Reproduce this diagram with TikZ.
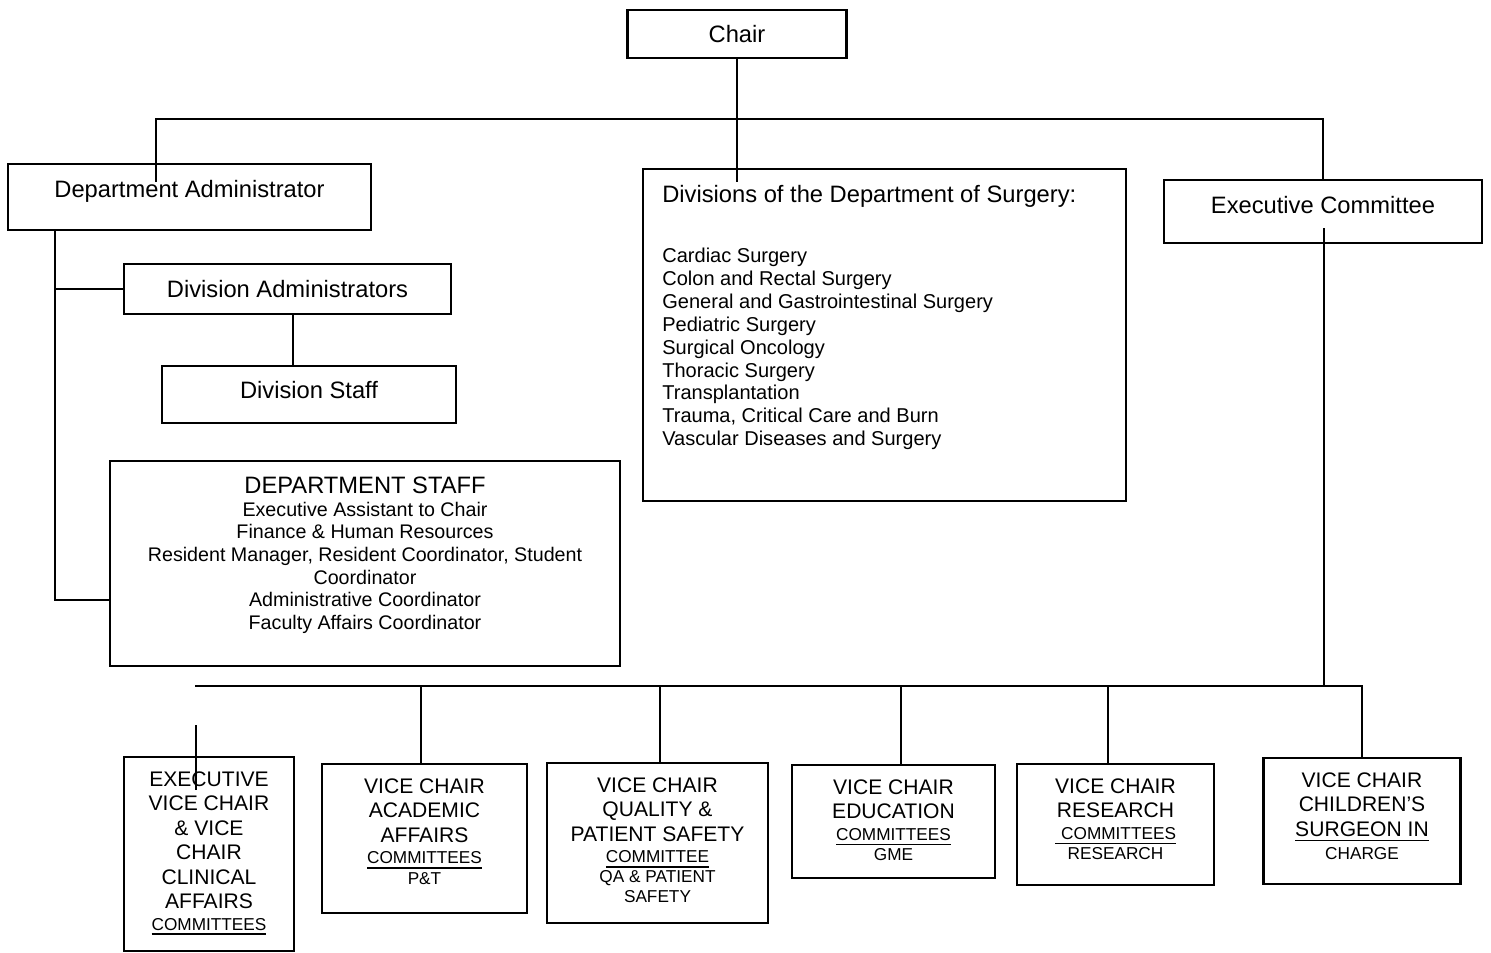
\documentclass[tikz,border=0pt]{standalone}
\usepackage{fontspec}
\setmainfont{Liberation Sans}
\usetikzlibrary{positioning}
\newcommand{\vcsmall}{\fontsize{9.8}{11.3}\selectfont}
\newcommand{\ulrule}[1]{\leavevmode\setbox0\hbox{#1}\rlap{\rule[-2.8pt]{\wd0}{1pt}}\box0}

\begin{document}
\begin{tikzpicture}[x=0.02cm, y=-0.02cm,
  box/.style={draw, line width=1.2pt, inner sep=0pt, align=center},
  head/.style={font=\fontsize{13.5}{16}\selectfont},
  vc/.style={inner sep=0pt, align=center, font=\fontsize{12}{13.9}\selectfont},
  link/.style={line width=1.2pt}
]
  \useasboundingbox (0,0) rectangle (1491,953);

  % Chair and the first row
  \node[box, head, minimum width=4.38cm, minimum height=0.96cm] (chair) at (737,34) {Chair};
  \node[box, head, minimum width=7.26cm, minimum height=1.32cm, text height=9.9pt, text depth=9.2pt] (deptadm) at (189.5,197) {Department Administrator};
  \node[box, head, minimum width=6.36cm, minimum height=1.26cm, text height=9.9pt, text depth=7.6pt] (execc) at (1323,211.5) {Executive Committee};

  % Divisions
  \node[box, minimum width=9.66cm, minimum height=6.64cm] (divs) at (884.5,335) {};
  \node[inner sep=0pt, align=left, font=\fontsize{11.4}{13}\selectfont, below right=0.33cm and 0.4cm of divs.north west] (divlist) {{\fontsize{13.5}{16}\selectfont Divisions of the Department of Surgery:}\\[21.6pt]
    Cardiac Surgery\\
    Colon and Rectal Surgery\\
    General and Gastrointestinal Surgery\\
    Pediatric Surgery\\
    Surgical Oncology\\
    Thoracic Surgery\\
    Transplantation\\
    Trauma, Critical Care and Burn\\
    Vascular Diseases and Surgery};

  % Administration side
  \node[box, head, minimum width=6.54cm, minimum height=1.0cm] (divadm) at (287.5,289) {Division Administrators};
  \node[box, head, minimum width=5.88cm, minimum height=1.14cm, text height=9.9pt, text depth=5.3pt] (divstaff) at (309,394.5) {Division Staff};
  \node[box, minimum width=10.2cm, minimum height=4.1cm] (deptstaff) at (365,563.5) {};
  \node[inner sep=0pt, align=center, font=\fontsize{11.2}{12.9}\selectfont, below=0.33cm of deptstaff.north] (stafflist) {{\fontsize{13.5}{16}\selectfont DEPARTMENT STAFF}\\
    Executive Assistant to Chair\\
    Finance \& Human Resources\\
    Resident Manager, Resident Coordinator, Student\\
    Coordinator\\
    Administrative Coordinator\\
    Faculty Affairs Coordinator};

  % Vice chairs
  \node[box, minimum width=3.4cm, minimum height=3.88cm] (vcexec) at (209,854) {};
  \node[box, minimum width=4.1cm, minimum height=2.98cm] (vcacad) at (424.5,838.5) {};
  \node[box, minimum width=4.42cm, minimum height=3.2cm] (vcqual) at (657.5,843) {};
  \node[box, minimum width=4.06cm, minimum height=2.26cm] (vcedu) at (893.5,821.5) {};
  \node[box, minimum width=3.94cm, minimum height=2.42cm] (vcres) at (1115.5,824.5) {};
  \node[box, minimum width=3.94cm, minimum height=2.52cm] (vcchild) at (1362,821) {};

  \node[vc, below=0.31cm of vcexec.north] (vcexectxt) {EXECUTIVE\\VICE CHAIR\\\& VICE\\CHAIR\\CLINICAL\\AFFAIRS\\[-1.7pt]\vcsmall\ulrule{COMMITTEES}};
  \node[vc, below=0.31cm of vcacad.north] (vcacadtxt) {VICE CHAIR\\ACADEMIC\\AFFAIRS\\[-1.7pt]\vcsmall\ulrule{COMMITTEES}\\[-2pt]\vcsmall P\&T};
  \node[vc, below=0.31cm of vcqual.north] (vcqualtxt) {VICE CHAIR\\QUALITY \&\\PATIENT SAFETY\\[-1.7pt]\vcsmall\ulrule{COMMITTEE}\\[-2.6pt]\vcsmall QA \& PATIENT\\[-2.6pt]\vcsmall SAFETY};
  \node[vc, below=0.31cm of vcedu.north] (vcedutxt) {VICE CHAIR\\EDUCATION\\[-1.7pt]\vcsmall\ulrule{COMMITTEES}\\[-2.4pt]\vcsmall GME};
  \node[vc, below=0.31cm of vcres.north] (vcrestxt) {VICE CHAIR\\RESEARCH\\[-1.7pt]\vcsmall\ulrule{\hspace{3.5pt}COMMITTEES}\\[-2.4pt]\vcsmall RESEARCH};
  \node[vc, below=0.31cm of vcchild.north] (vcchildtxt) {VICE CHAIR\\CHILDREN’S\\\ulrule{SURGEON IN}\\[-0.5pt]\vcsmall CHARGE};

  % Lines from the chair
  \coordinate (barT) at (156,119);
  \coordinate (admtip) at (156,182);
  \draw[link] (chair.south) -- (chair.south |- admtip);
  \draw[link] (admtip) -- (barT) -- (barT -| execc.north) -- (execc.north);

  % Executive committee down to the vice chairs
  \coordinate (exectail) at (1324,228);
  \coordinate (barB) at (195,686);
  \draw[link] (exectail) -- (exectail |- barB);
  \draw[link] (barB) -- (barB -| vcchild.north) -- (vcchild.north);
  \foreach \x/\n in {421/vcacad, 660/vcqual, 901/vcedu, 1108/vcres}
    \draw[link] (\x,686) -- (\x,0 |- \n.north);
  \coordinate (evctip) at (196,725);
  \draw[link] (evctip) -- ++(0,65);

  % Administrator spine
  \coordinate (spine) at (55,600);
  \draw[link] (spine |- deptadm.south) -- (spine) -- (spine -| deptstaff.west);
  \draw[link] (spine |- divadm.west) -- (divadm.west);
  \draw[link] (293,0 |- divadm.south) -- (293,0 |- divstaff.north);
\end{tikzpicture}
\end{document}
